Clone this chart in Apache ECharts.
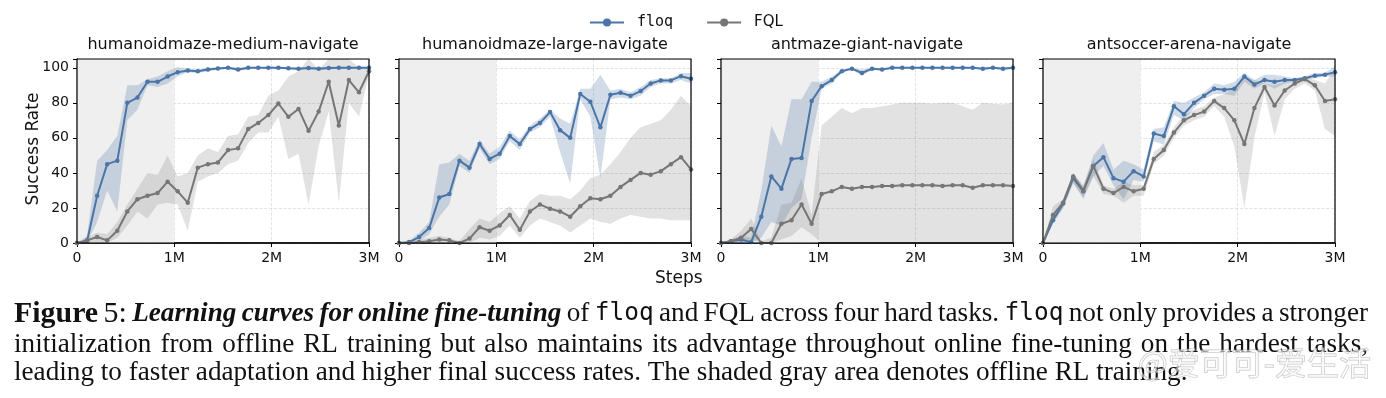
<!DOCTYPE html>
<html>
<head>
    <meta charset="utf-8">
    <title>Learning curves</title>
    <script src="https://cdn.jsdelivr.net/npm/echarts@6/dist/echarts.min.js"></script>
    <style>
        html, body { margin: 0; padding: 0; background: #fff; }
    </style>
</head>
<body>
<div id="main" style="width: 1386px;height:398px;"></div>
<script type="text/javascript">
    // eval steps (millions)
    var steps = [0, 0.103, 0.207, 0.31, 0.414, 0.517, 0.621, 0.724, 0.828, 0.931, 1.034, 1.138, 1.241, 1.345, 1.448,
        1.552, 1.655, 1.759, 1.862, 1.966, 2.069, 2.172, 2.276, 2.379, 2.483, 2.586, 2.69, 2.793, 2.897, 3.0];
    var xTickLabels = ['0', '1M', '2M', '3M'];
    var tasks = ['humanoidmaze-medium-navigate', 'humanoidmaze-large-navigate', 'antmaze-giant-navigate', 'antsoccer-arena-navigate'];

    // humanoidmaze-medium
    var floqMedium   = [0, 1, 27, 45, 47, 80, 83, 92, 92, 95, 97.5, 98.5, 98, 99, 99.6, 100, 99, 100, 100, 100, 100, 99.7, 99.5, 99.8, 99.4, 99.8, 100, 100, 100, 100];
    var floqMediumLo = [0, 0, 12, 30, 18, 70, 76, 90, 89, 91, 95, 97.5, 97, 98, 99, 99.3, 98, 99.3, 99.5, 99.5, 99.5, 99, 98.8, 99.2, 98.6, 99.2, 99.5, 99.5, 99.5, 99.5];
    var floqMediumHi = [0, 4, 47, 53, 61, 90, 90, 93.5, 95, 98, 100.5, 99.5, 99, 100, 100.2, 100.5, 100, 100.5, 100.5, 100.5, 100.5, 100.3, 100.2, 100.4, 100.2, 100.4, 100.5, 100.5, 100.5, 100.5];
    var fqlMedium    = [0, 1.5, 3.4, 1.5, 7, 18, 25, 27, 28.5, 35, 29.5, 23, 43, 45, 46, 53, 54, 65, 68.5, 73, 79.6, 72, 76.5, 64, 75, 92, 67, 93, 86, 98];
    var fqlMediumLo  = [0, 0, 0, 0, 3, 10, 18, 14, 22, 23, 22, 7, 35, 38, 40, 45, 47, 57, 63, 63, 72, 48, 51, 22, 55, 75, 23, 80, 72, 96];
    var fqlMediumHi  = [0, 3, 6, 5, 12, 22, 31, 40, 39, 50, 38, 40, 50, 54, 52, 61, 62, 72, 73, 84, 87, 95, 98, 105, 99, 105, 105, 105, 100, 100];

    // humanoidmaze-large
    var floqLarge   = [0, 0.5, 3.4, 8.5, 26, 28, 47, 43, 56.5, 48, 51, 61, 56.5, 65, 68.5, 74.7, 64.4, 60, 85, 80.6, 66, 84.6, 85.7, 84, 86.7, 91, 92.8, 92.8, 95.2, 93.7];
    var floqLargeLo = [0, 0, 1, 5, 15, 22, 44, 40, 54, 45, 48, 58, 53, 63, 66, 72, 52, 34, 82, 72, 37, 82, 83, 82, 84, 89, 91, 91, 93, 91];
    var floqLargeHi = [0, 1, 6, 12, 45, 46, 51, 47, 59, 51, 55, 64, 59, 67, 71, 76, 71, 68, 88, 88, 96, 87, 88, 86, 89, 93, 94, 94, 97, 97];
    var fqlLarge    = [0, 0, 0.5, 1, 2, 1.5, 0, 2.5, 9, 7, 10, 16, 7.5, 18, 22, 19.5, 18, 15, 21, 25.5, 25, 27, 32, 36, 40, 39, 41, 45, 49, 42];
    var fqlLargeLo  = [0, 0, 0, 0, 0, 0, 0, 0, 3, 2, 4, 10, 3, 10, 14, 12, 10, 6, 10, 14, 12, 11, 14, 16, 15, 14, 14, 13, 13, 13];
    var fqlLargeHi  = [0, 0, 2, 3, 4, 3, 1, 8, 14, 12, 17, 21, 14, 24, 28, 27, 27, 25, 30, 37, 39, 45, 52, 60, 66, 68, 70, 76, 84, 78];

    // antmaze-giant
    var floqGiant   = [0, 1, 2, 0.5, 15, 38, 31, 48, 48.5, 81, 89.5, 93, 98, 99.5, 97, 99.5, 99, 100, 100, 100, 100, 100, 100, 100, 100, 100, 99.5, 100, 99.5, 100];
    var floqGiantLo = [0, 0, 0, 0, 3, 12, 10, 20, 25, 60, 88, 91, 97, 99, 95.5, 99, 98.5, 99.5, 99.5, 99.5, 99.5, 99.5, 99.5, 99.5, 99.5, 99.5, 99, 99.5, 99, 99.5];
    var floqGiantHi = [0, 2, 4, 3, 30, 67, 55, 82, 82, 92, 92, 95, 99, 100, 99, 100, 99.7, 100.3, 100.3, 100.3, 100.3, 100.3, 100.3, 100.3, 100.3, 100.3, 100, 100.3, 100, 100.3];
    var fqlGiant    = [0, 1, 3, 8, 0, 0, 11, 13, 22, 11, 28, 29.5, 32, 31, 32, 32, 32.5, 32.5, 33, 33, 33, 33, 32.5, 33, 33, 31.5, 33, 33, 33, 32.5];
    var fqlGiantLo  = [0, 0, 0, 2, 0, 0, 2, 4, 9, 5, 0, 0, 0, 0, 0, 0, 0, 0, 0, 0, 0, 0, 0, 0, 0, 0, 0, 0, 0, 0];
    var fqlGiantHi  = [0, 2, 7, 14, 1, 3, 22, 23, 37, 16, 67, 72, 77, 74, 77, 77, 78, 79, 80, 80, 80, 79.5, 80, 80, 78, 76, 80, 79.5, 79, 80];

    // antsoccer-arena
    var floqArena   = [0, 13, 22.5, 37, 29.5, 44, 49, 37, 35, 41, 38, 62.5, 61, 78, 73.5, 80, 84, 88, 87.5, 88, 95, 90.5, 93, 92, 93, 93, 94, 95.5, 96, 97.5];
    var floqArenaLo = [0, 11, 20, 34, 26, 38, 44, 33, 25, 36, 35, 58, 56, 73, 70, 77, 82, 85, 85, 84, 92, 88, 91, 88, 91, 92, 93, 94, 95, 95];
    var floqArenaHi = [0, 15, 25, 40, 32, 50, 57, 42, 47, 45, 42, 65, 66, 81, 80, 83, 86, 91, 90, 92, 97, 93, 96, 96, 95, 94, 95, 97, 97, 101];
    var fqlArena    = [0, 16, 23, 38, 30, 44, 31, 28.5, 32, 29.5, 31, 48, 53, 63, 70, 73, 75, 81, 77, 70, 56.5, 77, 89, 78.5, 87, 91, 93.5, 90, 81, 82];
    var fqlArenaLo  = [0, 12, 20, 35, 25, 38, 28, 27, 23, 27, 27, 45, 50, 60, 67, 70, 72, 78, 72, 55, 20, 60, 86, 61, 82, 88, 91, 87, 65, 61];
    var fqlArenaHi  = [0, 21, 25, 40, 33, 48, 33, 31, 35, 33, 33, 52, 56, 66, 73, 76, 78, 83, 85, 88, 95, 93, 91, 90, 92, 94, 95, 93, 91, 100];

    var panels = [
        { floq: floqMedium, floqLo: floqMediumLo, floqHi: floqMediumHi, fql: fqlMedium, fqlLo: fqlMediumLo, fqlHi: fqlMediumHi },
        { floq: floqLarge, floqLo: floqLargeLo, floqHi: floqLargeHi, fql: fqlLarge, fqlLo: fqlLargeLo, fqlHi: fqlLargeHi },
        { floq: floqGiant, floqLo: floqGiantLo, floqHi: floqGiantHi, fql: fqlGiant, fqlLo: fqlGiantLo, fqlHi: fqlGiantHi },
        { floq: floqArena, floqLo: floqArenaLo, floqHi: floqArenaHi, fql: fqlArena, fqlLo: fqlArenaLo, fqlHi: fqlArenaHi }
    ];

    var blue = '#4a75a6';
    var gray = '#767676';
    var gridLefts = [77, 399, 721, 1043];
    var gridW = 292, gridTop = 59, gridH = 184;
    var sans = 'DejaVu Sans';

    function pairs(vals) {
        return steps.map(function (x, i) { return [x, vals[i]]; });
    }

    function band(idx, lo, hi, color) {
        return {
            type: 'custom', xAxisIndex: idx, yAxisIndex: idx, z: 2, silent: true,
            data: [0],
            renderItem: function (params, api) {
                var pts = [];
                for (var i = 0; i < steps.length; i++) pts.push(api.coord([steps[i], hi[i]]));
                for (var j = steps.length - 1; j >= 0; j--) pts.push(api.coord([steps[j], lo[j]]));
                return { type: 'polygon', shape: { points: pts }, style: { fill: color } };
            }
        };
    }

    var grids = [], xAxes = [], yAxes = [], titles = [], series = [];
    panels.forEach(function (p, k) {
        grids.push({ left: gridLefts[k], top: gridTop, width: gridW, height: gridH, show: true, z: 10,
            borderColor: '#000', borderWidth: 1.2, backgroundColor: 'transparent' });
        titles.push({
            text: tasks[k], left: gridLefts[k] + gridW / 2, top: 37, textAlign: 'center', padding: 0,
            textStyle: { fontFamily: sans, fontSize: 16, fontWeight: 'normal', color: '#111' }
        });
        xAxes.push({
            type: 'value', gridIndex: k, min: 0, max: 3, interval: 1,
            axisLine: { show: true, lineStyle: { color: '#000', width: 1.6 } },
            axisTick: { show: true, inside: false, length: 4, lineStyle: { color: '#000' } },
            axisLabel: { fontFamily: sans, fontSize: 14, color: '#111', margin: 8,
                formatter: function (v) { return xTickLabels[Math.round(v)]; } },
            splitLine: { show: true, lineStyle: { color: '#dcdcdc', type: 'dashed', width: 0.8 } }
        });
        yAxes.push({
            type: 'value', gridIndex: k, min: 0, max: 105, interval: 20,
            axisLine: { show: true, lineStyle: { color: '#000', width: 1.2 } },
            axisTick: { show: true, inside: false, length: 4, lineStyle: { color: '#000' } },
            axisLabel: { show: k === 0, fontFamily: sans, fontSize: 14, color: '#111', margin: 8,
                formatter: function (v) { return v > 100 ? '' : String(v); } },
            splitLine: { show: true, lineStyle: { color: '#dcdcdc', type: 'dashed', width: 0.8 } }
        });
        // offline phase shading
        series.push({
            type: 'line', xAxisIndex: k, yAxisIndex: k, data: [], z: 1, silent: true,
            markArea: { silent: true, itemStyle: { color: '#efefef' }, data: [[{ xAxis: 0 }, { xAxis: 1 }]] }
        });
        series.push(band(k, p.floqLo, p.floqHi, 'rgba(74,117,166,0.25)'));
        series.push(band(k, p.fqlLo, p.fqlHi, 'rgba(110,110,110,0.2)'));
        series.push({
            name: 'floq', type: 'line', xAxisIndex: k, yAxisIndex: k, z: 3, data: pairs(p.floq),
            symbol: 'circle', symbolSize: 4.5, showSymbol: true,
            lineStyle: { color: blue, width: 2 }, itemStyle: { color: blue }
        });
        series.push({
            name: 'FQL', type: 'line', xAxisIndex: k, yAxisIndex: k, z: 4, data: pairs(p.fql),
            symbol: 'circle', symbolSize: 4.5, showSymbol: true,
            lineStyle: { color: gray, width: 2 }, itemStyle: { color: gray }
        });
    });

    // caption, justified like the LaTeX source
    var serif = 'Liberation Serif';
    var mono = 'DejaVu Sans Mono';
    var ctx = document.createElement('canvas').getContext('2d');
    function fontOf(st, size) {
        if (st === 'fb') return 'bold ' + (size * 1.1) + 'px "' + serif + '"';
        if (st === 'fr') return (size * 1.1) + 'px "' + serif + '"';
        if (st === 'bi') return 'italic bold ' + size + 'px "' + serif + '"';
        if (st === 'm') return (size * 0.9) + 'px "' + mono + '"';
        return size + 'px "' + serif + '"';
    }
    function measure(st, size, s) { ctx.font = fontOf(st, size); return ctx.measureText(s).width; }

    var line1 = [['fb', 'Figure'], ['fr', '5:'], ['bi', 'Learning curves for online fine-tuning'], ['n', 'of'], ['m', 'floq'],
        ['n', 'and FQL across four hard tasks.'], ['m', 'floq'], ['n', 'not only provides a stronger']];
    var line2 = [['n', 'initialization from offline RL training but also maintains its advantage throughout online fine-tuning on the hardest tasks,']];
    var line3 = [['n', 'leading to faster adaptation and higher final success rates. The shaded gray area denotes offline RL training.']];

    var capSize = 26 * 1174 / measure('n', 26, line3[0][1]);

    function richLine(segs, target) {
        var words = [];
        segs.forEach(function (s) { s[1].split(' ').forEach(function (w) { words.push([s[0], w]); }); });
        var spaceW = measure('n', capSize, ' ');
        if (target) {
            var sum = 0;
            words.forEach(function (w) { sum += measure(w[0], capSize, w[1]); });
            spaceW = (target - sum) / (words.length - 1);
        }
        return {
            text: words.map(function (w) { return '{' + w[0] + '|' + w[1] + '}'; }).join('{s| }'),
            rich: {
                n: { font: fontOf('n', capSize), color: '#111' },
                fb: { font: fontOf('fb', capSize), color: '#111' },
                fr: { font: fontOf('fr', capSize), color: '#111' },
                bi: { font: fontOf('bi', capSize), color: '#111' },
                m: { font: fontOf('m', capSize), color: '#222' },
                s: { font: fontOf('n', capSize), width: spaceW }
            }
        };
    }
    var cap1 = richLine(line1, 1354), cap2 = richLine(line2, 1354), cap3 = richLine(line3, 0);

    var option = {
        backgroundColor: '#fff',
        animation: false,
        title: titles,
        legend: {
            data: ['floq', 'FQL'], top: 10, left: 584, itemWidth: 34, itemHeight: 10, itemGap: 33,
            formatter: function (n) { return n === 'floq' ? '{m|floq}' : '{s|FQL}'; },
            textStyle: { rich: {
                m: { fontFamily: mono, fontSize: 15, color: '#111', padding: [0, 0, 0, 8] },
                s: { fontFamily: sans, fontSize: 15, color: '#111', padding: [0, 0, 0, 8] }
            } }
        },
        grid: grids,
        xAxis: xAxes,
        yAxis: yAxes,
        series: series,
        graphic: [
            { type: 'text', x: 33.5, y: 149, rotation: Math.PI / 2,
                style: { text: 'Success Rate', fontFamily: sans, fontSize: 17, fill: '#111', align: 'center', verticalAlign: 'middle' } },
            { type: 'text', left: 655, top: 270, style: { text: 'Steps', fontFamily: sans, fontSize: 17, fill: '#111' } },
            { type: 'text', left: 14, top: 299, style: { text: cap1.text, rich: cap1.rich, fill: '#111' } },
            { type: 'text', left: 14, top: 331, style: { text: cap2.text, rich: cap2.rich, fill: '#111' } },
            { type: 'text', left: 14, top: 359, style: { text: cap3.text, rich: cap3.rich, fill: '#111' } },
            { type: 'text', left: 1137, top: 346, z: 100, style: { text: '@爱可可-爱生活', font: '32px "Noto Sans CJK SC"',
                fill: 'rgba(255,255,255,0.55)', stroke: 'rgba(140,140,140,0.5)', lineWidth: 1 } }
        ]
    };

    var myChart = echarts.init(document.getElementById('main'));
    myChart.setOption(option);
</script>
</body>
</html>
